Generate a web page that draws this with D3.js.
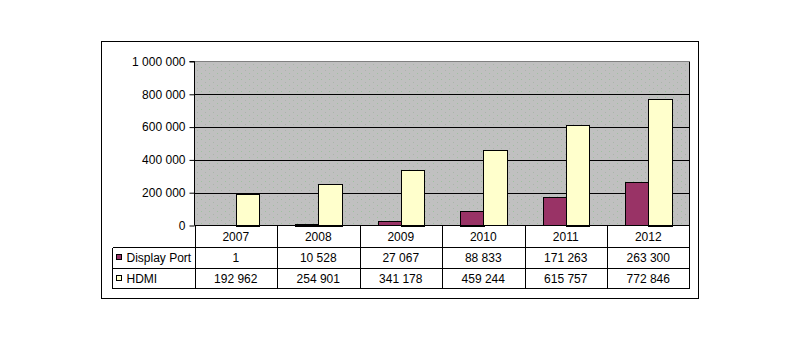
<!DOCTYPE html>
<html>
<head>
<meta charset="utf-8">
<script src="https://cdn.jsdelivr.net/npm/d3@7"></script>
<style>
  html, body { margin: 0; padding: 0; background: #ffffff; }
  svg { display: block; }
  text { font-family: "Liberation Sans", Arial, sans-serif; font-size: 12px; fill: #000; }
</style>
</head>
<body>
<svg id="chart" width="800" height="342"></svg>
<script>
// Shipments per year, by interface
const years = ["2007", "2008", "2009", "2010", "2011", "2012"];
const seriesNames = ["Display Port", "HDMI"];
const displayPort = [1, 10528, 27067, 88833, 171263, 263300];
const hdmi = [192962, 254901, 341178, 459244, 615757, 772846];
const yTicks = [0, 200000, 400000, 600000, 800000, 1000000];
const seriesColors = ["#993366", "#FFFFCC"];

const values = [displayPort, hdmi];

const svg = d3.select("#chart");
const fmt = d3.formatLocale({ decimal: ",", thousands: " ", grouping: [3], currency: ["", ""] }).format(",d");

// layout
const frame = { x: 101.5, y: 41.5, w: 597, h: 257 };
const plot = { left: 194.5, right: 689.5, top: 61.5, bottom: 225.5 };
const tableLeft = 112.5;
const rowH = [22, 21, 20];

// chart area frame
svg.append("rect")
  .attr("x", frame.x).attr("y", frame.y)
  .attr("width", frame.w).attr("height", frame.h)
  .attr("fill", "#fff").attr("stroke", "#000");

// dotted grey plot background
const defs = svg.append("defs");
const pat = defs.append("pattern")
  .attr("id", "dots").attr("patternUnits", "userSpaceOnUse")
  .attr("width", 8).attr("height", 6);
pat.append("rect").attr("width", 8).attr("height", 6).attr("fill", "#C0C0C0");
pat.append("rect").attr("x", 1).attr("y", 1).attr("width", 1).attr("height", 1).attr("fill", "#9fc09f");
pat.append("rect").attr("x", 5).attr("y", 4).attr("width", 1).attr("height", 1).attr("fill", "#a9b5a9");

const x0 = d3.scaleBand().domain(years).range([plot.left, plot.right]).padding(0);
const x1 = d3.scaleBand().domain(seriesNames).range([0, x0.bandwidth()])
  .paddingInner(0).paddingOuter(0.75);
const y = d3.scaleLinear().domain([0, 1000000]).range([plot.bottom, plot.top]);

svg.append("rect")
  .attr("x", plot.left).attr("y", plot.top)
  .attr("width", plot.right - plot.left).attr("height", plot.bottom - plot.top)
  .attr("fill", "url(#dots)").attr("stroke", "#808080");

// gridlines
svg.append("g")
  .selectAll("line")
  .data(yTicks.filter(t => t > 0 && t < 1000000))
  .join("line")
  .attr("x1", plot.left).attr("x2", plot.right)
  .attr("y1", d => Math.round(y(d)) + 0.5).attr("y2", d => Math.round(y(d)) + 0.5)
  .attr("stroke", "#000").attr("shape-rendering", "crispEdges");

// bars
const groups = svg.append("g").selectAll("g")
  .data(years)
  .join("g")
  .attr("transform", d => `translate(${x0(d)},0)`);

groups.selectAll("rect")
  .data((d, i) => seriesNames.map((s, k) => ({ s, v: values[k][i], k })))
  .join("rect")
  .attr("x", d => Math.round(x1(d.s)) + 0.5)
  .attr("width", x1.bandwidth())
  .attr("y", d => Math.round(y(d.v)) + 0.5)
  .attr("height", d => Math.max(0, Math.round(plot.bottom - y(d.v))))
  .attr("fill", d => seriesColors[d.k])
  .attr("stroke", "#000")
  .attr("shape-rendering", "crispEdges");

// value axis
const yAxis = d3.axisLeft(y).tickValues(yTicks).tickFormat(fmt).tickSize(5).tickPadding(4);
const ag = svg.append("g")
  .attr("transform", `translate(${plot.left},0)`)
  .call(yAxis);
ag.select(".domain").attr("d", `M-5,${plot.top}H0V${plot.bottom}`).attr("stroke", "#000");
ag.selectAll(".tick line").attr("stroke", "#000");
ag.selectAll("text").attr("font-size", "12px")
  .attr("font-family", "Liberation Sans, Arial, sans-serif");

// data table
const rowTop = [plot.bottom, plot.bottom + rowH[0], plot.bottom + rowH[0] + rowH[1]];
const tableBottom = rowTop[2] + rowH[2];
const tg = svg.append("g").attr("shape-rendering", "crispEdges");

// horizontal lines
tg.append("line").attr("x1", plot.left).attr("x2", plot.right)
  .attr("y1", plot.bottom).attr("y2", plot.bottom).attr("stroke", "#000");
[rowTop[1], rowTop[2], tableBottom].forEach(yy => {
  tg.append("line").attr("x1", tableLeft).attr("x2", plot.right)
    .attr("y1", yy).attr("y2", yy).attr("stroke", "#000");
});
// vertical lines
tg.append("line").attr("x1", tableLeft).attr("x2", tableLeft)
  .attr("y1", rowTop[1]).attr("y2", tableBottom).attr("stroke", "#000");
years.forEach(yr => {
  const xx = Math.round(x0(yr)) + 0.5;
  tg.append("line").attr("x1", xx).attr("x2", xx)
    .attr("y1", plot.bottom).attr("y2", tableBottom).attr("stroke", "#000");
});
tg.append("line").attr("x1", plot.right).attr("x2", plot.right)
  .attr("y1", plot.top).attr("y2", tableBottom).attr("stroke", "#000");

// year header row
svg.append("g").selectAll("text")
  .data(years)
  .join("text")
  .attr("x", d => x0(d) + x0.bandwidth() / 2)
  .attr("y", rowTop[0] + rowH[0] / 2)
  .attr("dy", "0.35em")
  .attr("text-anchor", "middle")
  .text(d => d);

// series rows
seriesNames.forEach((name, k) => {
  const cy = rowTop[k + 1] + rowH[k + 1] / 2;
  svg.append("rect")
    .attr("x", tableLeft + 4).attr("y", Math.round(cy) - 3.5)
    .attr("width", 5).attr("height", 5)
    .attr("fill", seriesColors[k]).attr("stroke", "#000")
    .attr("shape-rendering", "crispEdges");
  svg.append("text")
    .attr("x", tableLeft + 14).attr("y", cy)
    .attr("dy", "0.35em")
    .text(name);
  svg.append("g").selectAll("text")
    .data(years)
    .join("text")
    .attr("x", d => x0(d) + x0.bandwidth() / 2)
    .attr("y", cy)
    .attr("dy", "0.35em")
    .attr("text-anchor", "middle")
    .text((d, i) => fmt(values[k][i]));
});
</script>
</body>
</html>
